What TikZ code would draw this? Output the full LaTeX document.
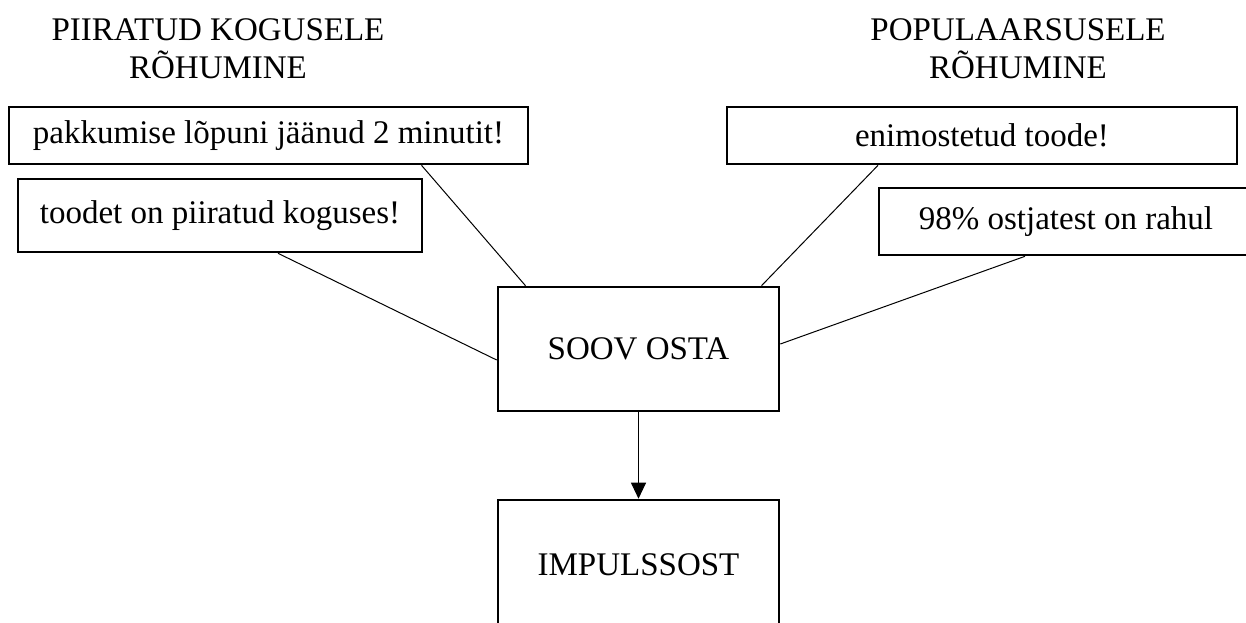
\documentclass[tikz,border=0pt]{standalone}
\usepackage{fontspec}
\setmainfont{Liberation Serif}
\usetikzlibrary{arrows.meta,calc}

\begin{document}
\begin{tikzpicture}[x=0.5pt,y=-0.5pt,
		kast/.style={draw,line width=1.3pt,inner sep=0pt,font=\fontsize{16.5}{19}\selectfont},
		pealkiri/.style={align=center,inner sep=0pt,font=\fontsize{16.5}{19}\selectfont},
		joon/.style={line width=0.5pt}]
		\clip ( 0, 0 ) rectangle ( 1246, 622 );

		% pealkirjad
		\node [pealkiri] (piir) at ( 218, 49 ) {PIIRATUD KOGUSELE\\RÕHUMINE};
		\node [pealkiri] (popu) at ( 1018, 49 ) {POPULAARSUSELE\\RÕHUMINE};

		% piiratud kogus
		\node [kast,minimum width=259.5pt,minimum height=28.5pt] (pakk) at ( 268.5, 135.5 ) {pakkumise lõpuni jäänud 2 minutit!};
		\node [kast,minimum width=202pt,minimum height=36.5pt] (tood) at ( 220, 215.5 ) {toodet on piiratud koguses!};

		% populaarsus
		\node [kast,minimum width=255pt,minimum height=28.5pt] (enim) at ( 982, 135.5 ) {enimostetud toode!};
		\node [kast,minimum width=187pt,minimum height=33.5pt] (rahul) at ( 1066, 221.5 ) {98\% ostjatest on rahul};

		% soov ja ost
		\node [kast,minimum width=140.5pt,minimum height=62pt] (soov) at ( 638.5, 349 ) {SOOV OSTA};
		\node [kast,minimum width=140.5pt,minimum height=65pt] (impu) at ( 638.5, 565 ) {IMPULSSOST};

		% ühendused
		\draw [joon] ($(pakk.south)+(153,0)$) -- ($(soov.north)+(-113,0)$);
		\draw [joon] ($(tood.south)+(58,0)$) -- ($(soov.west)+(0,11)$);
		\draw [joon] ($(enim.south)+(-104,0)$) -- ($(soov.north)+(123,0)$);
		\draw [joon] ($(rahul.south)+(-41,0)$) -- ($(soov.east)+(0,-5)$);
		\draw [joon,-{Triangle[length=8pt,width=7.5pt]}] (soov.south) -- (impu.north);
	\end{tikzpicture}
\end{document}
